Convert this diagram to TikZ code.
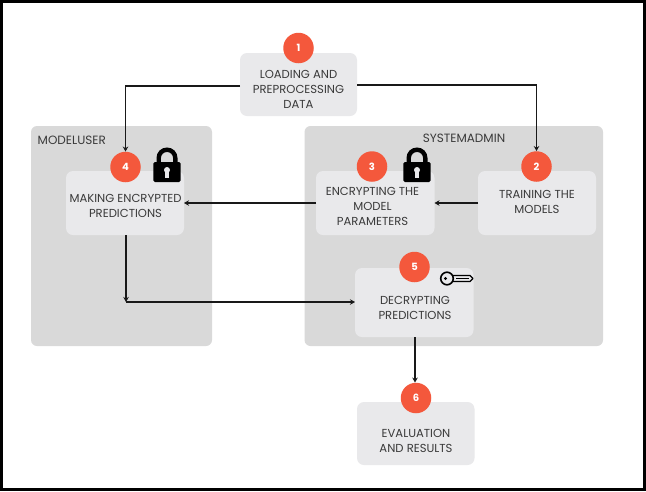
\documentclass[tikz,border=0pt]{standalone}
\usepackage{fontspec}
\setmainfont{Poppins}
\usetikzlibrary{arrows.meta}
\definecolor{panelgray}{HTML}{D9D9D9}
\definecolor{boxgray}{HTML}{E9E9EB}
\definecolor{badgered}{HTML}{F4583C}
\definecolor{inktext}{HTML}{3A3A3A}
\tikzset{
  x=1pt,y=-1pt,
  panel/.style={fill=panelgray,rounded corners=6pt},
  stepbox/.style={fill=boxgray,rounded corners=7pt},
  steptext/.style={align=center,font=\fontsize{11.6}{15}\selectfont,text=inktext,inner sep=0pt},
  panellabel/.style={font=\fontsize{12}{14}\selectfont,text=inktext,inner sep=0pt},
  badge/.style={circle,fill=badgered,minimum size=30.5pt,inner sep=0pt,text=white,font=\fontsize{10}{12}\selectfont\bfseries},
  conn/.style={line width=1.4pt,draw=black!90,-{Stealth[length=5pt,width=5.5pt]}},
}
\newcommand{\padlock}[2]{%
  \fill[black,rounded corners=1.5pt] (#1-13.7,#2-2) rectangle (#1+13.7,#2+18);
  \draw[black,line width=4.4pt] (#1-8.3,#2) -- (#1-8.3,#2-6) arc[start angle=180,end angle=360,radius=8.3] -- (#1+8.3,#2);
  \fill[boxgray] (#1,#2+6) circle[radius=3];
  \fill[boxgray] (#1-1.7,#2+6) rectangle (#1+1.7,#2+13.5);
}
\begin{document}
\begin{tikzpicture}
\useasboundingbox (0,0) rectangle (646,491);
\fill[black] (0,0) rectangle (646,491);
\fill[white] (3,3) rectangle (643,488);
% panels
\fill[panel] (31,126) rectangle (212,346);
\fill[panel] (304.5,126) rectangle (603,346);
\node[panellabel,anchor=west] (lbluser) at (37.5,140) {MODELUSER};
\node[panellabel] (lbladmin) at (464,138) {SYSTEMADMIN};
% boxes
\path[stepbox] (240,53) rectangle (357,116);
\node[steptext] (t1) at (298.5,89) {LOADING AND\\PREPROCESSING\\DATA};
\path[stepbox] (66,171) rectangle (184,235);
\node[steptext] (t4) at (125.5,206) {MAKING ENCRYPTED\\PREDICTIONS};
\path[stepbox] (316,171) rectangle (434.5,235);
\node[steptext] (t3) at (372.5,206) {ENCRYPTING THE\\MODEL\\PARAMETERS};
\path[stepbox] (478,171) rectangle (596,235);
\node[steptext] (t2) at (537,202) {TRAINING THE\\MODELS};
\path[stepbox] (355,268) rectangle (473.5,337);
\node[steptext] (t5) at (415,308) {DECRYPTING\\PREDICTIONS};
\path[stepbox] (357,402) rectangle (474.5,465);
\node[steptext] (t6) at (416,441) {EVALUATION\\AND RESULTS};
% anchors on the step boxes
\coordinate (n1w) at (240,86); \coordinate (n1e) at (357,85);
\coordinate (n2w) at (478,203);
\coordinate (n3e) at (434.5,203); \coordinate (n3w) at (316,203);
\coordinate (n4e) at (184,203); \coordinate (n4s) at (126,235);
\coordinate (n5w) at (355,302); \coordinate (n5s) at (415,337);
\coordinate (corner) at (126,302);
% badges
\node[badge] (b1) at (298.5,48) {1};
\node[badge] (b2) at (536.5,166.5) {2};
\node[badge] (b3) at (372,166.5) {3};
\node[badge] (b4) at (125.5,167) {4};
\node[badge] (b5) at (414.5,267) {5};
\node[badge] (b6) at (416,398) {6};
% connectors
\draw[conn] (n1w) -| (b4.north);
\draw[conn] (n1e) -| (b2.north);
\draw[conn] (n2w) -- (n3e);
\draw[conn] (n3w) -- (n4e);
\draw[conn] (n4s) -- (corner);
\draw[conn] (corner) -- (n5w);
\draw[conn] (n5s) -- (n5s |- b6.north);
% locks
\padlock{167}{164}
\padlock{417}{164}
% key
\draw[black,line width=1.6pt,fill=boxgray] (447,278.5) circle[radius=6.3];
\fill[black] (445.5,278.5) circle[radius=1.6];
\draw[black,line width=1.3pt,line join=round]
  (453,275.5) -- (470,275.5) -- (473,278.5) -- (470,281.5) -- (453,281.5);
\draw[black,line width=1pt] (456,278.3) -- (469,278.3);
\end{tikzpicture}
\end{document}
